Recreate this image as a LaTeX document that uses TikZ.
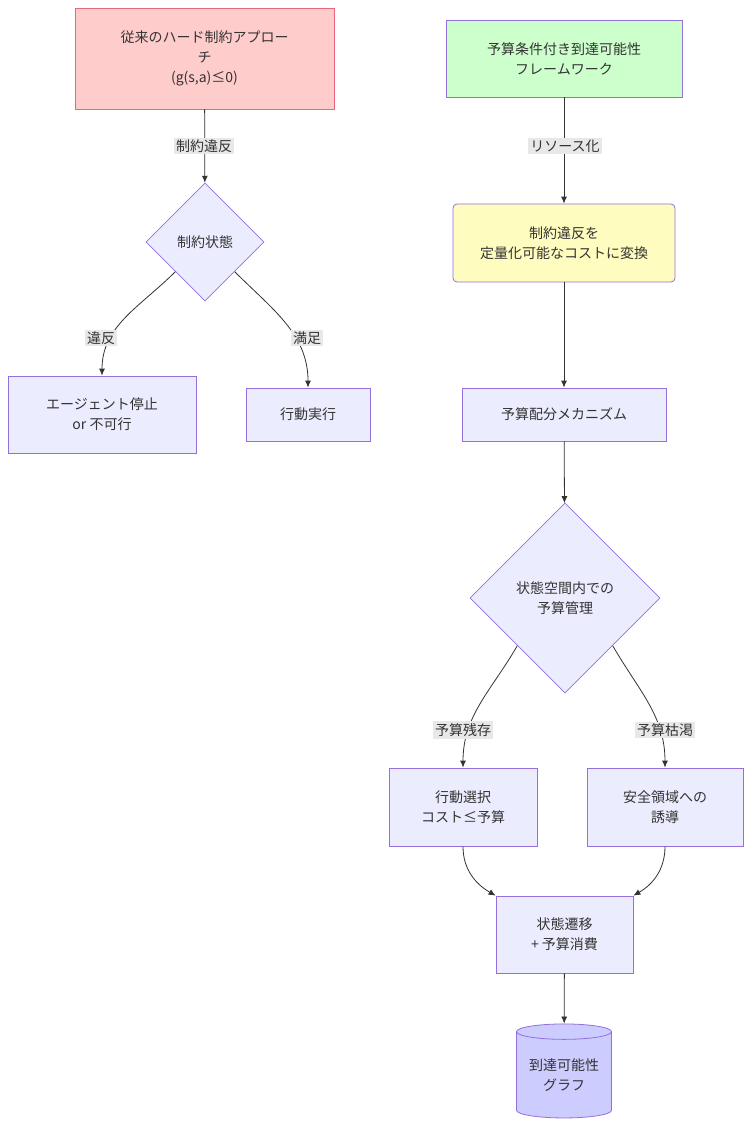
\documentclass[tikz,border=0pt]{standalone}
\usepackage{fontspec}
\setmainfont{Noto Sans CJK JP}
\usetikzlibrary{shapes.geometric,arrows.meta}
\definecolor{nfill}{HTML}{ECECFF}
\definecolor{nbord}{HTML}{9370DB}
\definecolor{txt}{HTML}{333333}
\begin{document}
\begin{tikzpicture}[x=1pt,y=-1pt,
  every node/.style={font=\fontsize{14}{20}\selectfont,text=txt,align=center},
  box/.style={draw=nbord,fill=nfill,line width=0.8pt,inner sep=0pt},
  dia/.style={diamond,draw=nbord,fill=nfill,line width=0.8pt,inner sep=0pt,aspect=1},
  lbl/.style={fill=black!9,inner sep=2pt,font=\fontsize{14}{16}\selectfont},
  arr/.style={draw=txt,line width=0.8pt,-{Latex[length=7pt,width=6pt]}}]
\useasboundingbox[fill=white] (0,0) rectangle (751,1127);
% left
\node[box,fill=red!20,draw=red!45!purple!60,minimum width=259,minimum height=101] (A) at (204.5,58.5) {従来のハード制約アプロー\\チ\\(g(s,a)≤0)};
\node[dia,minimum width=118,minimum height=118] (D1) at (205,242) {制約状態};
\node[box,minimum width=188,minimum height=77] (B1) at (102,414.5) {エージェント停止\\or 不可行};
\node[box,minimum width=124,minimum height=53] (B2) at (308,414.5) {行動実行};
\draw[arr] (A) -- (D1);
\node[lbl] (l1) at (204,146) {制約違反};
\draw[arr] (D1.south west) to[out=-135,in=90] (B1.north);
\node[lbl] (l2) at (101,338) {違反};
\draw[arr] (D1.south east) to[out=-45,in=90] (B2.north);
\node[lbl] (l3) at (307,338) {満足};
% right
\node[box,fill=green!20,draw=nbord,minimum width=236,minimum height=77] (G) at (564,58.5) {予算条件付き到達可能性\\フレームワーク};
\node[box,fill=yellow!25,draw=nbord,rounded corners=4pt,minimum width=222,minimum height=78] (Y) at (564,243) {制約違反を\\定量化可能なコストに変換};
\node[box,minimum width=204,minimum height=53] (M) at (564,414.5) {予算配分メカニズム};
\node[dia,minimum width=190,minimum height=190] (D2) at (565,598) {状態空間内での\\予算管理};
\node[box,minimum width=148,minimum height=78] (S1) at (463,807) {行動選択\\コスト≤予算};
\node[box,minimum width=156,minimum height=78] (S2) at (665,807) {安全領域への\\誘導};
\node[box,minimum width=137,minimum height=77] (T) at (564.5,934.5) {状態遷移\\+ 予算消費};
\node[cylinder,shape border rotate=90,aspect=0.22,draw=nbord,fill=blue!20,line width=0.8pt,minimum width=95,minimum height=94,inner sep=0pt] (C) at (564,1075) {到達可能性\\グラフ};
\draw[arr] (G) -- (Y);
\node[lbl] (l4) at (565,146) {リソース化};
\draw[arr] (Y) -- (M);
\draw[arr] (M) -- (D2);
\draw[arr] (D2.south west) to[out=-120,in=90] (S1.north);
\node[lbl] (l5) at (463,730) {予算残存};
\draw[arr] (D2.south east) to[out=-60,in=90] (S2.north);
\node[lbl] (l6) at (665,730) {予算枯渇};
\draw[arr] (S1.south) to[out=-90,in=150] (T.north west);
\draw[arr] (S2.south) to[out=-90,in=30] (T.north east);
\draw[arr] (T) -- (C);
\end{tikzpicture}
\end{document}
